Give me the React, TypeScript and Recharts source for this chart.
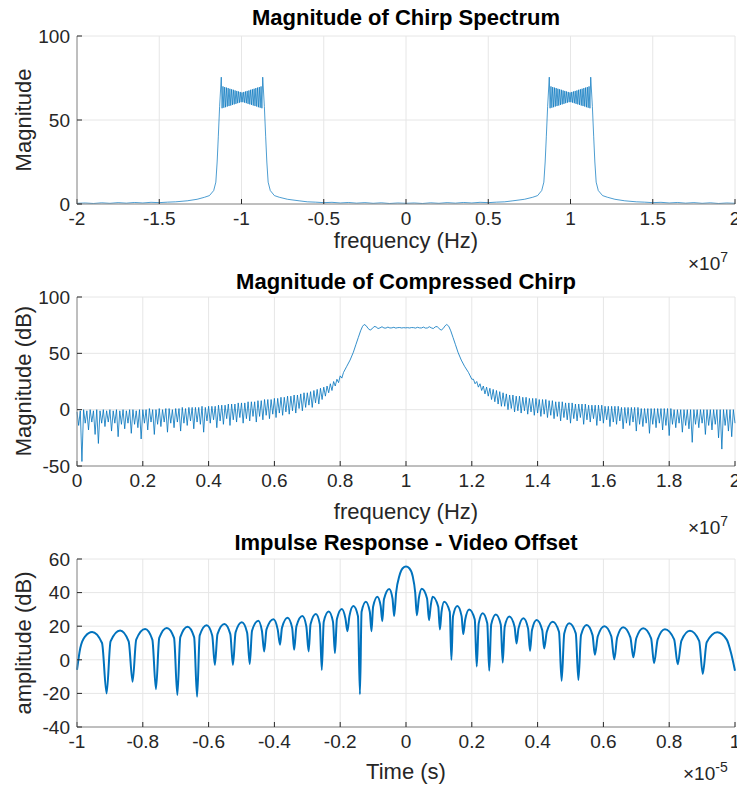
import React from 'react';
import { LineChart, Line, XAxis, YAxis, CartesianGrid } from 'recharts';

const BLUE = '#0072BD';
const AXIS = '#8a8a8a';
const GRID = '#e6e6e6';
const INK = '#262626';
const FONT = "'Liberation Sans', Arial, Helvetica, sans-serif";

// ---- Plot 1: magnitude of chirp spectrum (positive half, x in units of 1e7 Hz) ----
const specHeadFreq = [0, 0.05, 0.1, 0.15, 0.2, 0.25, 0.3, 0.35, 0.4, 0.45, 0.5, 0.55, 0.6, 0.65, 0.72, 0.77, 0.8, 0.825, 0.838, 0.846, 0.853, 0.861, 0.871];
const specHeadMag = [0.4, 0.6, 0.3, 0.7, 0.4, 0.8, 0.5, 0.9, 0.6, 1.0, 0.8, 1.1, 1.3, 1.9, 2.8, 4, 5, 8, 13, 25, 40, 58, 75.5];
// in-band Fresnel ripple, evenly spaced between RIPPLE_FROM and RIPPLE_TO
const RIPPLE_FROM = 0.876;
const RIPPLE_TO = 1.118;
const specRipple = [
  57, 70, 57.3, 69.6, 57.6, 69.3, 58, 69, 58.3, 68.6, 58.6, 68.3, 59, 68, 59.3, 67.6, 59.6, 67.3, 60, 67, 60.3, 66.7, 60.6,
  66.4,
  60.6, 66.7, 60.3, 67, 60, 67.3, 59.6, 67.6, 59.3, 68, 59, 68.3, 58.6, 68.6, 58.3, 69, 58, 69.3, 57.6, 69.6, 57.3, 70, 57,
];
const specTailFreq = [1.123, 1.133, 1.141, 1.148, 1.156, 1.169, 1.195, 1.225, 1.27, 1.33, 1.4, 1.45, 1.5, 1.55, 1.6, 1.65, 1.7, 1.75, 1.8, 1.85, 1.9, 1.95, 2.0];
const specTailMag = [75.5, 58, 40, 25, 13, 8, 5, 4, 2.8, 1.9, 1.3, 1.1, 0.8, 1.0, 0.6, 0.9, 0.5, 0.8, 0.4, 0.7, 0.3, 0.6, 0.4];

// ---- Plot 2: magnitude of compressed chirp in dB (x in units of 1e7 Hz) ----
const NOISE_STEP = 0.005;
const LOW_NOISE_START = 0;
const lowNoiseDb = [
  -2, -14, -1, -46, 0, -12, -1, -18, 0, -11,
  -1, -22, 0, -30, -1, -12, 0, -15, -1, -11,
  0, -19, -1, -12, 0, -24, -1, -13, 0, -17,
  -1, -12, 0, -21, 0, -13, -1, -16, 0, -26,
  0, -12, 0, -18, 1, -11, 0, -22, 0, -13,
  1, -15, 0, -11, 1, -20, 1, -12, 0, -16,
  1, -11, 1, -19, 2, -12, 1, -14, 2, -10,
  2, -17, 2, -11, 2, -13, 3, -20, 2, -10,
  3, -12, 3, -9, 3, -16, 4, -10, 4, -13,
  4, -8, 5, -14, 5, -9, 5, -11, 6, -7,
  6, -12, 6, -8, 7, -10, 7, -6, 7, -11,
  8, -6, 8, -9, 9, -5, 9, -8, 9, -4,
  10, -7, 10, -3, 11, -5, 11, -2, 12, -4,
  12, -1, 13, -3, 13, 1, 14, -1, 15, 2,
  15, 4, 16, 2, 17, 6, 18, 5, 19, 9,
  20, 12, 21, 15, 23, 17, 25, 21, 27, 24,
  30, 28,
];
const plateauFreq = [
  0.81, 0.82, 0.83, 0.84, 0.848, 0.855, 0.862, 0.868, 0.873, 0.879, 0.885, 0.891, 0.897, 0.903, 0.909, 0.915,
  0.921, 0.927, 0.933, 0.939, 0.945, 0.951, 0.957, 0.963, 0.969, 0.975, 0.981, 0.987, 0.993, 0.999,
  1.005, 1.011, 1.017, 1.023, 1.029, 1.035, 1.041, 1.047, 1.053, 1.059, 1.065, 1.071, 1.077, 1.083, 1.089,
  1.095, 1.101, 1.107, 1.113, 1.119, 1.124, 1.13, 1.136, 1.143, 1.15, 1.158, 1.168, 1.178, 1.19,
];
const plateauDb = [
  33, 38.5, 44, 51, 58, 64, 70, 74, 75.6, 74.5, 72, 70.6, 71.8, 73.8, 73.5, 72,
  72.6, 73.6, 72.5, 72.4, 73.3, 72.5, 72.6, 73.1, 72.4, 72.8, 72.9, 72.5, 72.8, 72.6,
  72.8, 72.5, 72.9, 72.8, 72.4, 73.1, 72.6, 72.5, 73.3, 72.4, 72.5, 73.6, 72.6, 72, 73.5,
  73.8, 71.8, 70.6, 72, 74.5, 75.6, 74, 70, 64, 58, 51, 44, 38.5, 33,
];
const HIGH_NOISE_START = 1.195;
const highNoiseDb = [
  30, 27, 27, 23, 25, 20, 23, 17, 21, 14,
  20, 12, 19, 9, 18, 7, 17, 5, 16, 3,
  15, 3, 14, 0, 13, 1, 13, -2, 12, -1,
  12, -3, 11, -1, 11, -4, 10, -2, 10, -5,
  10, -3, 9, -6, 9, -4, 9, -7, 8, -5,
  8, -8, 7, -6, 7, -10, 7, -7, 6, -9,
  6, -12, 6, -8, 5, -10, 5, -7, 5, -13,
  5, -9, 4, -11, 4, -8, 4, -14, 4, -10,
  4, -12, 3, -9, 3, -15, 3, -11, 3, -13,
  3, -10, 2, -17, 2, -12, 2, -14, 2, -11,
  2, -19, 2, -13, 1, -15, 1, -12, 1, -21,
  1, -13, 1, -16, 1, -12, 1, -18, 1, -14,
  1, -23, 1, -13, 0, -16, 0, -12, 0, -20,
  0, -14, 0, -17, 0, -29, 0, -13, 0, -16,
  0, -12, 0, -22, 0, -14, 0, -18, 0, -13,
  0, -25, 0, -35, 0, -14, 0, -19, 0, -24,
  0, -12,
];

// ---- Plot 3: impulse response (time in units of 1e-5 s) ----
const impulseTime = [
  -1.0, -0.99, -0.975, -0.954, -0.924, -0.91,
  -0.898, -0.869, -0.843, -0.831,
  -0.82, -0.793, -0.771, -0.76,
  -0.75, -0.727, -0.705, -0.695,
  -0.686, -0.664, -0.644, -0.635,
  -0.627, -0.606, -0.589, -0.581,
  -0.573, -0.552, -0.534, -0.526,
  -0.518, -0.499, -0.483, -0.475,
  -0.468, -0.449, -0.438, -0.431,
  -0.424, -0.403, -0.39, -0.383,
  -0.377, -0.36, -0.346, -0.34,
  -0.333, -0.315, -0.303, -0.296,
  -0.29, -0.274, -0.262, -0.256,
  -0.25, -0.235, -0.222, -0.216,
  -0.21, -0.195, -0.184, -0.178,
  -0.172, -0.16, -0.146, -0.14,
  -0.135, -0.122, -0.11, -0.105,
  -0.1, -0.087, -0.077, -0.072,
  -0.067, -0.051, -0.041, -0.036,
  -0.03, -0.02, -0.01, 0, 0.01, 0.02, 0.028, 0.033,
  0.039, 0.048, 0.064, 0.07,
  0.075, 0.081, 0.098, 0.103,
  0.108, 0.116, 0.133, 0.138,
  0.143, 0.156, 0.169, 0.174,
  0.18, 0.192, 0.209, 0.215,
  0.221, 0.233, 0.247, 0.253,
  0.259, 0.273, 0.288, 0.294,
  0.3, 0.314, 0.33, 0.336,
  0.342, 0.357, 0.371, 0.377,
  0.383, 0.397, 0.414, 0.42,
  0.428, 0.446, 0.465, 0.473,
  0.481, 0.496, 0.516, 0.524,
  0.532, 0.549, 0.567, 0.574,
  0.583, 0.603, 0.624, 0.633,
  0.642, 0.66, 0.682, 0.691,
  0.7, 0.721, 0.745, 0.754,
  0.765, 0.787, 0.815, 0.826,
  0.837, 0.863, 0.891, 0.902,
  0.914, 0.946, 0.975, 0.988, 1.0,
];
const impulseDb = [
  -6, 7, 14, 16.5, 10, -20,
  11, 17.5, 11, -13,
  12, 18.3, 12, -17.5,
  13, 19, 13, -21,
  13.5, 19.7, 13.5, -22,
  14.5, 20.5, 14.5, -3,
  15.3, 21.3, 15.3, -3,
  16.3, 22.3, 16.3, -2.5,
  17.3, 23.3, 17.3, 5,
  18.1, 24.1, 18.1, 9,
  19, 25, 19, 6,
  20, 26, 20, 5,
  21.3, 27.3, 21.3, -6,
  22.7, 28.7, 22.7, 4,
  24.3, 30.3, 24.5, 17,
  26, 32, 26, -20.5,
  28.6, 34.6, 28.6, 17,
  31.6, 37.6, 32, 23,
  36, 42.2, 36.5, 26,
  40, 50, 54.5, 55.5, 54.5, 50, 40, 26.5,
  36.5, 42.3, 36.5, 23.5,
  32, 37.6, 31.6, 18,
  28.6, 34.6, 28.6, 0,
  26, 32, 26, 15.3,
  24, 30, 24, -4,
  21.7, 27.7, 21.7, -6.5,
  21, 27, 21, -1.7,
  19.7, 25.7, 19.7, 9.7,
  18.7, 24.7, 18.7, 5.3,
  17.7, 23.7, 17.7, 6.8,
  16.7, 22.7, 16.7, -12.5,
  15.7, 21.7, 15.7, -12,
  14.7, 20.7, 14.7, 3,
  14, 20, 14, 0.3,
  13.4, 19.4, 13.4, 1.5,
  12.8, 18.8, 12.8, -2,
  12.2, 18.2, 12.2, -2.7,
  11.3, 17.3, 11.3, -8.4,
  10.4, 16.4, 12, 4, -6.5,
];

// ---- tick labels ----
const spectrumTicks = [-2, -1.5, -1, -0.5, 0, 0.5, 1, 1.5, 2];
const spectrumYTicks = [0, 50, 100];
const compressedTicks = [0, 0.2, 0.4, 0.6, 0.8, 1, 1.2, 1.4, 1.6, 1.8, 2];
const compressedYTicks = [-50, 0, 50, 100];
const timeTicks = [-1, -0.8, -0.6, -0.4, -0.2, 0, 0.2, 0.4, 0.6, 0.8, 1];
const impulseYTicks = [-40, -20, 0, 20, 40, 60];

type Pt = { x: number; y: number };

const pairs = (xs: number[], ys: number[]): Pt[] =>
  xs.slice(0, Math.min(xs.length, ys.length)).map((x, i) => ({ x, y: ys[i] }));

// spectrum of a real chirp is symmetric, so the negative half mirrors the positive one
const specPositive: Pt[] = [
  ...pairs(specHeadFreq, specHeadMag),
  ...specRipple.map((y, i) => ({ x: RIPPLE_FROM + ((RIPPLE_TO - RIPPLE_FROM) * i) / (specRipple.length - 1), y })),
  ...pairs(specTailFreq, specTailMag),
];
const spectrumData: Pt[] = [
  ...specPositive.slice(1).map((p) => ({ x: -p.x, y: p.y })).reverse(),
  ...specPositive,
];

const compressedData: Pt[] = [
  ...lowNoiseDb.map((y, i) => ({ x: LOW_NOISE_START + i * NOISE_STEP, y })),
  ...pairs(plateauFreq, plateauDb),
  ...highNoiseDb.map((y, i) => ({ x: HIGH_NOISE_START + i * NOISE_STEP, y })),
];

const impulseData: Pt[] = pairs(impulseTime, impulseDb);

interface PanelProps {
  top: number;
  height: number;
  plotTop: number;
  plotHeight: number;
  data: Pt[];
  xDomain: [number, number];
  xTicks: number[];
  yDomain: [number, number];
  yTicks: number[];
  strokeWidth: number;
  curve: 'linear' | 'monotone';
}

function Panel({ top, height, plotTop, plotHeight, data, xDomain, xTicks, yDomain, yTicks, strokeWidth, curve }: PanelProps) {
  const xAxisHeight = 30;
  const bottom = height - plotTop - plotHeight - xAxisHeight;
  const tickFont = { fontSize: 19, fill: INK, fontFamily: FONT };
  return (
    <div style={{ position: 'absolute', left: 0, top, width: 737, height }}>
      <LineChart width={737} height={height} data={data} margin={{ top: plotTop, right: 2, bottom, left: 0 }}>
        <CartesianGrid stroke={GRID} />
        <XAxis
          dataKey="x"
          type="number"
          domain={xDomain}
          ticks={xTicks}
          interval={0}
          height={xAxisHeight}
          stroke={AXIS}
          tickSize={-5}
          tickMargin={13}
          tick={tickFont}
          tickLine={{ stroke: INK }}
        />
        <XAxis
          xAxisId="top"
          orientation="top"
          type="number"
          domain={xDomain}
          ticks={xTicks}
          interval={0}
          height={0}
          stroke={AXIS}
          tickSize={-5}
          tick={false}
          tickLine={{ stroke: INK }}
        />
        <YAxis
          type="number"
          domain={yDomain}
          ticks={yTicks}
          interval={0}
          width={77}
          stroke={AXIS}
          tickSize={-5}
          tickMargin={12}
          tick={tickFont}
          tickLine={{ stroke: INK }}
        />
        <YAxis
          yAxisId="right"
          orientation="right"
          type="number"
          domain={yDomain}
          ticks={yTicks}
          interval={0}
          width={0}
          stroke={AXIS}
          tickSize={-5}
          tick={false}
          tickLine={{ stroke: INK }}
        />
        <Line
          dataKey="y"
          type={curve}
          stroke={BLUE}
          strokeWidth={strokeWidth}
          dot={false}
          isAnimationActive={false}
        />
      </LineChart>
    </div>
  );
}

function Caption({ x, y, size, bold, rotate, color, children }: {
  x: number; y: number; size: number; bold?: boolean; rotate?: boolean; color?: string; children: React.ReactNode;
}) {
  return (
    <div
      style={{
        position: 'absolute',
        left: x,
        top: y,
        transform: `translate(-50%, -50%)${rotate ? ' rotate(-90deg)' : ''}`,
        fontSize: size,
        fontWeight: bold ? 700 : 400,
        lineHeight: 1,
        whiteSpace: 'nowrap',
        color: color || INK,
        fontFamily: FONT,
      }}
    >
      {children}
    </div>
  );
}

function Exponent({ x, y, power }: { x: number; y: number; power: string }) {
  return (
    <div style={{ position: 'absolute', left: x, top: y, fontSize: 19, lineHeight: 1, color: INK, fontFamily: FONT, whiteSpace: 'nowrap' }}>
      ×10<span style={{ fontSize: 14, position: 'relative', top: -8 }}>{power}</span>
    </div>
  );
}

export default function App() {
  return (
    <div style={{ position: 'absolute', left: 0, top: 0, width: 737, height: 786, background: '#fff', overflow: 'hidden', fontFamily: FONT }}>
      <Panel top={0} height={240} plotTop={36} plotHeight={168} data={spectrumData} xDomain={[-2, 2]} xTicks={spectrumTicks}
        yDomain={[0, 100]} yTicks={spectrumYTicks} strokeWidth={0.7} curve="linear" />
      <Panel top={262} height={240} plotTop={35} plotHeight={169} data={compressedData} xDomain={[0, 2]} xTicks={compressedTicks}
        yDomain={[-50, 100]} yTicks={compressedYTicks} strokeWidth={0.8} curve="linear" />
      <Panel top={524} height={240} plotTop={35} plotHeight={168} data={impulseData} xDomain={[-1, 1]} xTicks={timeTicks}
        yDomain={[-40, 60]} yTicks={impulseYTicks} strokeWidth={2} curve="monotone" />

      <Caption x={406} y={18} size={22} bold color="#000">Magnitude of Chirp Spectrum</Caption>
      <Caption x={406} y={241} size={22}>frequency (Hz)</Caption>
      <Caption x={24} y={120} size={22} rotate>Magnitude</Caption>
      <Exponent x={688} y={254} power="7" />

      <Caption x={406} y={282} size={22} bold color="#000">Magnitude of Compressed Chirp</Caption>
      <Caption x={406} y={512} size={22}>frequency (Hz)</Caption>
      <Caption x={24} y={381} size={22} rotate>Magnitude (dB)</Caption>
      <Exponent x={688} y={518} power="7" />

      <Caption x={406} y={543} size={22} bold color="#000">Impulse Response - Video Offset</Caption>
      <Caption x={406} y={772} size={22}>Time (s)</Caption>
      <Caption x={24} y={643} size={22} rotate>amplitude (dB)</Caption>
      <Exponent x={683} y={764} power="-5" />
    </div>
  );
}
